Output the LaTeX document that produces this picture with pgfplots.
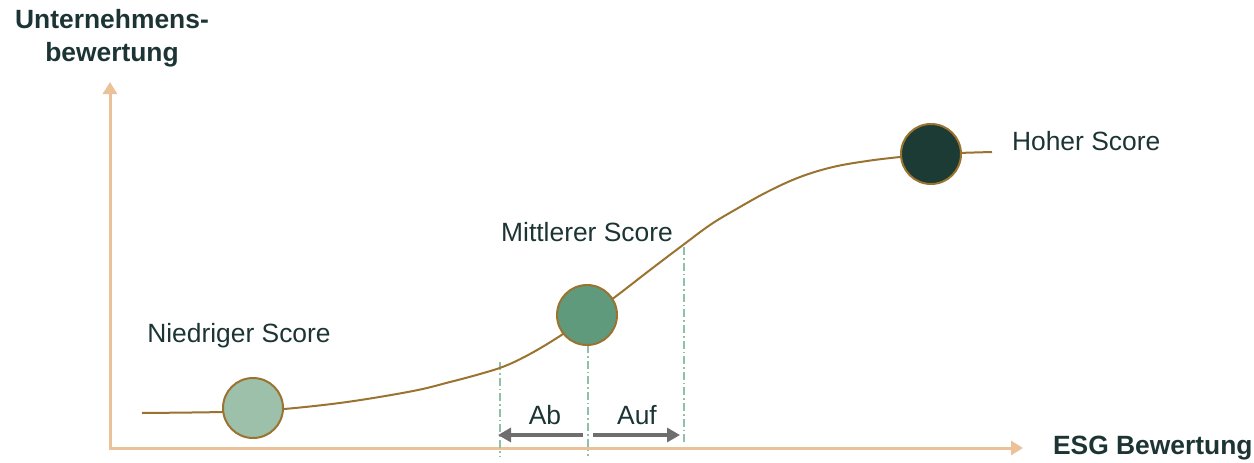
\documentclass[border=0pt]{standalone}
\usepackage{pgfplots}
\pgfplotsset{compat=1.18}
\usepackage{fontspec}
\setmainfont{Liberation Sans}
\usetikzlibrary{arrows.meta}
\definecolor{axc}{HTML}{EBC199}
\definecolor{curvec}{HTML}{9A7330}
\definecolor{c1}{HTML}{9DC0AA}
\definecolor{c2}{HTML}{5F9A7D}
\definecolor{c3}{HTML}{1B3B34}
\definecolor{dashc}{HTML}{8FC0A8}
\definecolor{arrc}{HTML}{6E6E6E}
\definecolor{txt}{HTML}{1C3434}
\tikzset{lbl/.style={font=\fontsize{13.2}{16}\selectfont, text=txt}}
\begin{document}
\begin{tikzpicture}
\begin{axis}[
  scale only axis, width=627pt, height=231pt,
  xmin=0, xmax=1254, ymin=0, ymax=462,
  axis lines=none, clip=false,
]
% axes
\addplot[axc, line width=1.5pt, -{Triangle[width=7pt,length=6pt]}] coordinates {(110,14) (110,380)};
\addplot[axc, line width=1.5pt, -{Triangle[width=7pt,length=6pt]}] coordinates {(109,14) (1023,14)};
% dashed guides
\addplot[dashc, line width=0.6pt, dash pattern=on 4pt off 1.5pt on 0.8pt off 1.5pt] coordinates {(500,100) (500,6)};
\addplot[dashc, line width=0.6pt, dash pattern=on 4pt off 1.5pt on 0.8pt off 1.5pt] coordinates {(588,117) (588,6)};
\addplot[dashc, line width=0.6pt, dash pattern=on 4pt off 1.5pt on 0.8pt off 1.5pt] coordinates {(684,215) (684,20)};
% curve
\addplot[curvec, line width=1pt, smooth, tension=0.6] coordinates {
(142,49) (222,50) (253,52) (284,53) (347,60) (413,71) (450,80) (480,88) (505,96) (530,108) (560,126) (587,145) (615,165) (650,192) (683,217) (710,237) (733,251) (767,270) (800,285) (833,295) (867,301) (900,305) (932,308) (992,310)};
% circles
\addplot[only marks, mark=*, mark size=15pt, mark options={fill=c1, draw=curvec, line width=1pt}] coordinates {(253,54)};
\addplot[only marks, mark=*, mark size=15pt, mark options={fill=c2, draw=curvec, line width=1pt}] coordinates {(587,147)};
\addplot[only marks, mark=*, mark size=15pt, mark options={fill=c3, draw=curvec, line width=1pt}] coordinates {(931,308)};
% Ab / Auf arrows
\addplot[arrc, line width=1.6pt, -{Triangle[width=7pt,length=6.5pt]}] coordinates {(583,27) (498,27)};
\addplot[arrc, line width=1.6pt, -{Triangle[width=7pt,length=6.5pt]}] coordinates {(593,27) (680,27)};
% labels
\node[lbl] at (axis cs:545,47) {Ab};
\node[lbl] at (axis cs:637,47) {Auf};
\node[lbl] at (axis cs:239,126) {Niedriger Score};
\node[lbl] at (axis cs:587,230) {Mittlerer Score};
\node[lbl, anchor=west] at (axis cs:1005,321) {Hoher Score};
\node[anchor=west, text=txt, font=\fontsize{13.2}{16.5}\selectfont\bfseries] at (axis cs:1046,14) {ESG Bewertung};
\node[align=center, text=txt, font=\fontsize{13.2}{16.5}\selectfont\bfseries] at (axis cs:112,424) {Unternehmens-\\bewertung};
\end{axis}
\pgfresetboundingbox
\path[use as bounding box] (current axis.south west) rectangle (current axis.north east);
\end{tikzpicture}
\end{document}
